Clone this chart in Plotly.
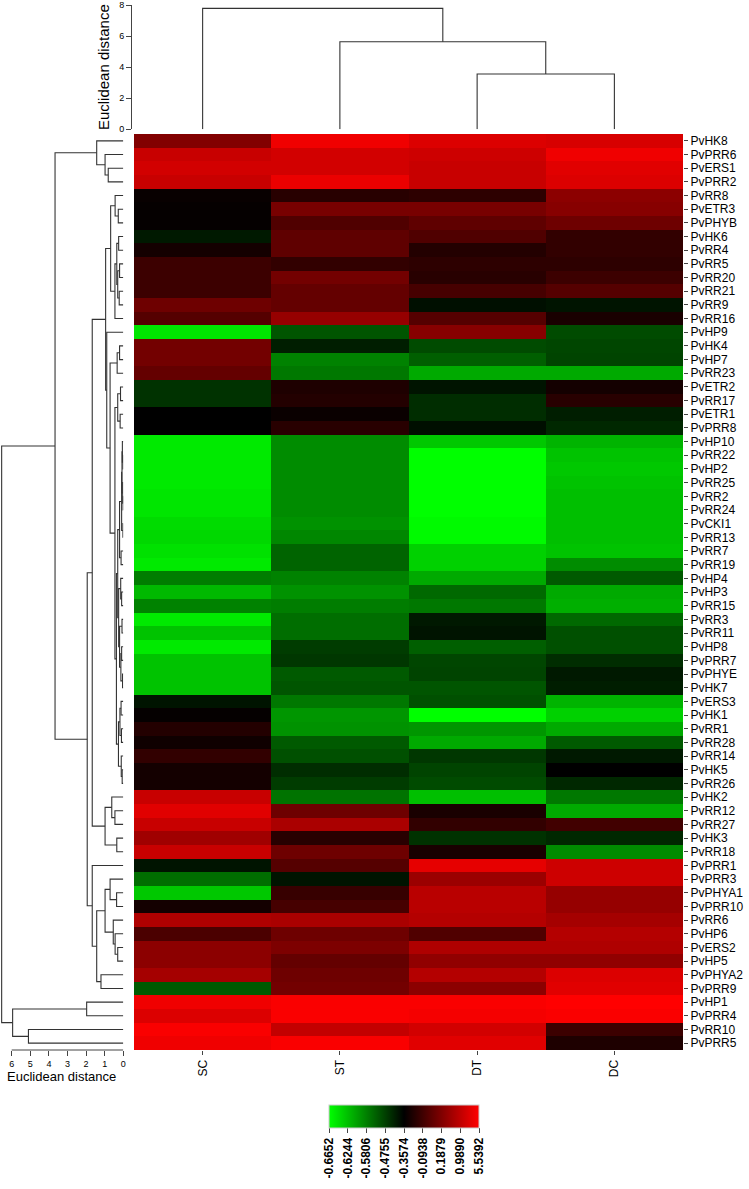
import numpy as np
import plotly.graph_objects as go

# ---- data -------------------------------------------------------------
samples = ["SC", "ST", "DT", "DC"]

genes = ["PvHK8", "PvPRR6", "PvERS1", "PvPRR2", "PvRR8", "PvETR3", "PvPHYB", "PvHK6", "PvRR4", "PvRR5",
         "PvRR20", "PvRR21", "PvRR9", "PvRR16", "PvHP9", "PvHK4", "PvHP7", "PvRR23", "PvETR2", "PvRR17",
         "PvETR1", "PvPRR8", "PvHP10", "PvRR22", "PvHP2", "PvRR25", "PvRR2", "PvRR24", "PvCKI1", "PvRR13",
         "PvRR7", "PvRR19", "PvHP4", "PvHP3", "PvRR15", "PvRR3", "PvRR11", "PvHP8", "PvPRR7", "PvPHYE",
         "PvHK7", "PvERS3", "PvHK1", "PvRR1", "PvRR28", "PvRR14", "PvHK5", "PvRR26", "PvHK2", "PvRR12",
         "PvRR27", "PvHK3", "PvRR18", "PvPRR1", "PvPRR3", "PvPHYA1", "PvPRR10", "PvRR6", "PvHP6", "PvERS2",
         "PvHP5", "PvPHYA2", "PvPRR9", "PvHP1", "PvPRR4", "PvRR10", "PvPRR5"]

sc = [0.219, 1.613, 2.327, 1.613, -0.325, -0.337, -0.337, -0.404, -0.275, -0.109,
      -0.109, -0.109, 0.110, 0.000, -0.649, 0.133, 0.133, 0.066, -0.450, -0.450,
      -0.357, -0.357, -0.652, -0.652, -0.652, -0.652, -0.649, -0.649, -0.643, -0.640,
      -0.646, -0.652, -0.576, -0.620, -0.582, -0.652, -0.627, -0.652, -0.627, -0.627,
      -0.627, -0.394, -0.337, -0.213, -0.295, -0.151, -0.275, -0.275, 1.613, 3.396,
      1.613, 0.597, 1.613, -0.394, -0.552, -0.630, -0.275, 0.785, -0.044, 0.345,
      0.345, 0.659, -0.519, 4.470, 3.041, 5.184, 4.470]
st = [4.470, 2.327, 2.327, 4.110, -0.192, 0.155, -0.022, 0.044, 0.044, -0.151,
      0.133, 0.066, 0.066, 0.471, -0.511, -0.413, -0.582, -0.568, -0.233, -0.213,
      -0.316, -0.192, -0.589, -0.589, -0.589, -0.589, -0.589, -0.589, -0.593, -0.586,
      -0.535, -0.535, -0.582, -0.593, -0.576, -0.552, -0.552, -0.469, -0.459, -0.519,
      -0.511, -0.568, -0.596, -0.593, -0.519, -0.502, -0.441, -0.469, -0.560, 0.110,
      0.722, -0.192, 0.110, 0.000, -0.394, -0.130, -0.066, 0.722, 0.110, 0.177,
      0.066, 0.110, 0.133, 5.184, 5.184, 1.257, 5.184]
dt = [3.041, 1.972, 1.613, 1.613, -0.171, 0.155, 0.044, -0.022, -0.213, -0.171,
      -0.192, -0.066, -0.385, 0.000, 0.282, -0.494, -0.527, -0.610, -0.394, -0.441,
      -0.441, -0.385, -0.630, -0.665, -0.665, -0.665, -0.665, -0.665, -0.662, -0.662,
      -0.636, -0.636, -0.610, -0.544, -0.568, -0.404, -0.394, -0.527, -0.486, -0.483,
      -0.511, -0.502, -0.665, -0.596, -0.610, -0.459, -0.483, -0.494, -0.624, -0.254,
      -0.151, -0.450, -0.254, 3.756, 0.533, 0.911, 0.911, 0.848, -0.022, 0.785,
      0.408, 0.848, 0.345, 5.184, 4.825, 2.327, 3.396]
dc = [2.686, 4.470, 3.396, 3.041, 0.345, 0.282, 0.110, -0.151, -0.151, -0.171,
      -0.109, 0.000, -0.394, -0.254, -0.494, -0.486, -0.483, -0.610, -0.275, -0.192,
      -0.413, -0.432, -0.617, -0.627, -0.630, -0.627, -0.624, -0.624, -0.624, -0.624,
      -0.627, -0.589, -0.519, -0.610, -0.613, -0.544, -0.502, -0.502, -0.441, -0.404,
      -0.413, -0.617, -0.636, -0.610, -0.519, -0.404, -0.357, -0.432, -0.568, -0.610,
      -0.088, -0.432, -0.589, 1.972, 1.972, 0.471, 0.471, 0.659, 0.848, 0.785,
      0.408, 3.041, 3.396, 5.539, 5.184, -0.109, -0.233]

# colour key breaks (evenly spaced on the key)
breaks = [-0.6652, -0.6244, -0.5806, -0.4755, -0.3574, -0.0938, 0.1879, 0.9890, 5.5392]
break_labels = ["-0.6652", "-0.6244", "-0.5806", "-0.4755", "-0.3574",
                "-0.0938", "0.1879", "0.9890", "5.5392"]

# dendrograms: [left, right, merge height]
col_tree = ["SC", ["ST", ["DT", "DC", 3.56], 5.63], 7.78]

top4 = ["PvHK8", ["PvPRR6", ["PvERS1", "PvPRR2", 0.81], 0.98], 1.43]
g5_7 = ["PvRR8", ["PvETR3", "PvPHYB", 0.27], 0.44]
g8_14 = [[["PvHK6", "PvRR4", 0.25], [["PvRR5", "PvRR20", 0.20], ["PvRR21", "PvRR9", 0.22], 0.30], 0.35],
         "PvRR16", 0.45]
g16_18 = [["PvHK4", "PvHP7", 0.20], "PvRR23", 0.33]
g19_22 = [["PvETR2", "PvRR17", 0.15], ["PvETR1", "PvPRR8", 0.17], 0.30]
g23_30 = [[["PvHP10", ["PvRR22", "PvHP2", 0.02], 0.05], ["PvRR25", ["PvRR2", "PvRR24", 0.01], 0.03], 0.07],
          ["PvCKI1", "PvRR13", 0.02], 0.09]
g23_32 = [g23_30, ["PvRR7", "PvRR19", 0.12], 0.20]
g33_41 = [["PvHP4", ["PvHP3", "PvRR15", 0.09], 0.14],
          [["PvRR3", "PvRR11", 0.07], [["PvHP8", "PvPRR7", 0.09], ["PvPHYE", "PvHK7", 0.04], 0.13], 0.20], 0.25]
g42_48 = [[["PvERS3", "PvHK1", 0.12], ["PvRR1", "PvRR28", 0.10], 0.18],
          ["PvRR14", ["PvHK5", "PvRR26", 0.06], 0.11], 0.26]
g23_48 = [[g23_32, g33_41, 0.30], g42_48, 0.37]
g5_48 = [[g5_7, g8_14, 0.68], ["PvHP9", [g16_18, [g19_22, g23_48, 0.45], 0.71], 0.89], 0.95]
g49_53 = [["PvHK2", ["PvRR12", "PvRR27", 0.45], 0.62], ["PvHK3", "PvRR18", 0.35], 0.98]
g55_63 = [[["PvPRR3", ["PvPHYA1", "PvPRR10", 0.36], 0.71],
           ["PvRR6", ["PvHP6", ["PvERS2", "PvHP5", 0.30], 0.44], 0.54], 0.98],
          ["PvPHYA2", "PvPRR9", 1.20], 1.43]
main = [top4, [[g5_48, g49_53, 1.67], ["PvPRR1", g55_63, 1.67], 1.94], 3.67]
tail = [["PvHP1", "PvPRR4", 1.97], ["PvRR10", "PvPRR5", 5.10], 5.95]
row_tree = [main, tail, 6.54]


def dendro_lines(tree, pos):
    # returns leaf-axis coords and height coords of the U-shaped links
    p, h = [], []

    def walk(node):
        if isinstance(node, str):
            return pos[node], 0.0
        a, b, height = node
        pa, ha = walk(a)
        pb, hb = walk(b)
        p.extend([pa, pa, pb, pb, None])
        h.extend([ha, height, height, hb, None])
        return (pa + pb) / 2, height

    walk(tree)
    return p, h


# ---- figure -----------------------------------------------------------
W, H = 749, 1189
FONT = "Liberation Sans, Arial, sans-serif"
LINE = dict(color="#333333", width=1.1)

vals = np.array([sc, st, dt, dc]).T
zpos = np.interp(vals, breaks, np.arange(len(breaks)))

hx0, hx1 = 134, 683          # heatmap pixel box
hy0, hy1 = 134, 1050

fig = go.Figure()

fig.add_trace(go.Heatmap(
    z=zpos, x=list(range(4)), y=list(range(len(genes))),
    customdata=vals, hovertemplate="%{customdata:.3f}<extra></extra>",
    zmin=0, zmax=8,
    colorscale=[[0, "rgb(0,255,0)"], [0.5, "rgb(0,0,0)"], [1, "rgb(255,0,0)"]],
    colorbar=dict(
        orientation="h", x=329 / W, xanchor="left", y=(H - 1105) / H, yanchor="top",
        len=150, lenmode="pixels", thickness=23, xpad=0, ypad=0,
        tickvals=list(range(9)), ticktext=break_labels, tickangle=-90,
        ticks="outside", ticklen=5, tickcolor="#444",
        tickfont=dict(family=FONT, size=12, color="black", weight="bold"),
        outlinewidth=1, outlinecolor="#cccccc",
    ),
))

rp, rh = dendro_lines(row_tree, {g: i for i, g in enumerate(genes)})
fig.add_trace(go.Scatter(x=rh, y=rp, mode="lines", line=LINE, xaxis="x2", yaxis="y2",
                         hoverinfo="skip", showlegend=False))

cp, ch = dendro_lines(col_tree, {s: i for i, s in enumerate(samples)})
fig.add_trace(go.Scatter(x=cp, y=ch, mode="lines", line=LINE, xaxis="x3", yaxis="y3",
                         hoverinfo="skip", showlegend=False))

ydom = [(H - hy1) / H, (H - hy0) / H]
row_range = [len(genes) - 0.5, -0.5]
px_per_unit = 18.6

fig.update_layout(
    width=W, height=H, margin=dict(l=0, r=0, t=0, b=0, autoexpand=False),
    paper_bgcolor="white", plot_bgcolor="white",
    font=dict(family=FONT, size=12, color="black"),
    showlegend=False,
    xaxis=dict(domain=[hx0 / W, hx1 / W], range=[-0.5, 3.5], tickvals=list(range(4)),
               ticktext=samples, tickangle=-90, ticks="outside", ticklen=4, tickcolor="#444",
               showgrid=False, zeroline=False, tickfont=dict(size=12), automargin=False),
    yaxis=dict(domain=ydom, range=row_range, side="right", tickvals=list(range(len(genes))),
               ticktext=genes, ticks="outside", ticklen=4, tickcolor="#444",
               showgrid=False, zeroline=False, tickfont=dict(size=12), automargin=False),
    xaxis2=dict(domain=[0, 123.3 / W], range=[123.3 / px_per_unit, 0], anchor="y2",
                tickvals=list(range(7)), ticks="outside", ticklen=5, tickcolor="#444",
                tickfont=dict(size=9), showgrid=False, zeroline=False, automargin=False,
                title=dict(text="Euclidean distance", font=dict(size=13), standoff=2)),
    yaxis2=dict(domain=ydom, range=row_range, anchor="x2", visible=False),
    xaxis3=dict(domain=[hx0 / W, hx1 / W], range=[-0.5, 3.5], anchor="y3", visible=False),
    yaxis3=dict(domain=[(H - 129.3) / H, (H - 5) / H], range=[0, 8], anchor="free",
                position=131 / W, tickvals=[0, 2, 4, 6, 8], ticks="outside", ticklen=5,
                tickcolor="#444", showline=True, linecolor="#444", linewidth=1,
                tickfont=dict(size=9), showgrid=False, zeroline=False, automargin=False,
                title=dict(text="Euclidean distance", font=dict(size=15), standoff=4)),
)

# axis line of the row dendrogram, drawn only between its first and last tick
fig.add_shape(type="line", xref="x2", yref="paper", x0=0, x1=6, y0=ydom[0], y1=ydom[0],
              line=dict(color="#444", width=1))

# the page body keeps the browser's 8px default margin otherwise
fig.write_html("out.html", config={"displayModeBar": False},
               post_script="document.body.style.margin='0';")
